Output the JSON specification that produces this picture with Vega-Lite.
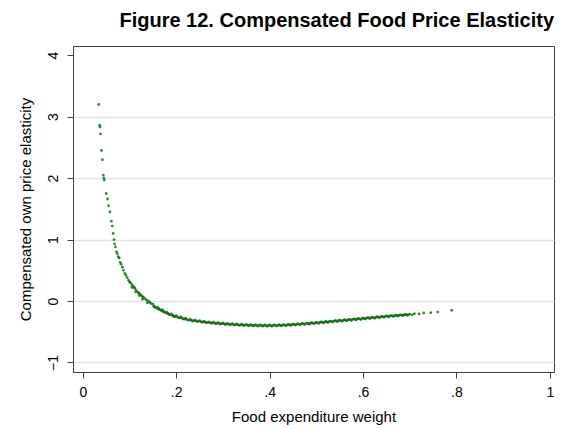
{
  "$schema": "https://vega.github.io/schema/vega-lite/v6.json",
  "autosize": "none",
  "width": 481,
  "height": 326,
  "padding": {"left": 73, "top": 46, "right": 10, "bottom": 56},
  "background": "white",
  "title": {
    "text": "Figure 12. Compensated Food Price Elasticity",
    "anchor": "end",
    "font": "Liberation Sans",
    "fontSize": 20,
    "fontWeight": "bold",
    "color": "#000000",
    "offset": 15
  },
  "config": {
    "view": {"stroke": "#404040", "strokeWidth": 1},
    "axis": {
      "labelFont": "Liberation Sans",
      "titleFont": "Liberation Sans",
      "labelColor": "#000000",
      "titleColor": "#000000",
      "titleFontWeight": "normal",
      "domainColor": "#404040",
      "tickColor": "#404040",
      "labelFontSize": 14,
      "titleFontSize": 15
    }
  },
  "data": {"values": [
    {"w":0.034,"e":3.2},{"w":0.036,"e":2.86},{"w":0.037,"e":2.83},{"w":0.038,"e":2.72},{"w":0.040,"e":2.45},
    {"w":0.042,"e":2.3},{"w":0.044,"e":2.05},{"w":0.045,"e":2.0},{"w":0.046,"e":1.97},{"w":0.050,"e":1.75},
    {"w":0.053,"e":1.66},{"w":0.055,"e":1.55},{"w":0.058,"e":1.45},{"w":0.061,"e":1.3},{"w":0.063,"e":1.22},
    {"w":0.065,"e":1.1},{"w":0.067,"e":1.0},{"w":0.068,"e":0.93},{"w":0.070,"e":0.88},{"w":0.072,"e":0.8},
    {"w":0.074,"e":0.77},{"w":0.076,"e":0.72},{"w":0.078,"e":0.70},{"w":0.080,"e":0.63},{"w":0.082,"e":0.6},
    {"w":0.085,"e":0.55},{"w":0.087,"e":0.5},{"w":0.090,"e":0.45},{"w":0.092,"e":0.42},{"w":0.095,"e":0.38},
    {"w":0.098,"e":0.34},{"w":0.100,"e":0.31},{"w":0.102,"e":0.30},{"w":0.105,"e":0.27},{"w":0.108,"e":0.24},
    {"w":0.110,"e":0.22},{"w":0.112,"e":0.20},{"w":0.115,"e":0.17},{"w":0.118,"e":0.14},{"w":0.120,"e":0.13},
    {"w":0.123,"e":0.11},{"w":0.125,"e":0.09},{"w":0.128,"e":0.07},{"w":0.130,"e":0.06},{"w":0.133,"e":0.04},
    {"w":0.136,"e":0.02},{"w":0.140,"e":0.0},{"w":0.143,"e":-0.02},{"w":0.146,"e":-0.04},
    {"w":0.105,"e":0.22},{"w":0.113,"e":0.15},{"w":0.121,"e":0.09},{"w":0.128,"e":0.03},{"w":0.138,"e":-0.03},
    {"w":0.152,"e":-0.09},{"w":0.162,"e":-0.13},{"w":0.172,"e":-0.17},{"w":0.183,"e":-0.21},{"w":0.193,"e":-0.24},
    {"w":0.150,"e":-0.05},{"w":0.155,"e":-0.10},{"w":0.160,"e":-0.10},{"w":0.165,"e":-0.14},{"w":0.170,"e":-0.14},
    {"w":0.175,"e":-0.18},{"w":0.180,"e":-0.18},{"w":0.185,"e":-0.22},{"w":0.190,"e":-0.21},{"w":0.195,"e":-0.25},
    {"w":0.200,"e":-0.24},{"w":0.205,"e":-0.27},{"w":0.210,"e":-0.26},{"w":0.215,"e":-0.29},{"w":0.220,"e":-0.28},
    {"w":0.225,"e":-0.31},{"w":0.230,"e":-0.30},{"w":0.235,"e":-0.325},{"w":0.240,"e":-0.31},{"w":0.245,"e":-0.335},
    {"w":0.250,"e":-0.32},{"w":0.255,"e":-0.345},{"w":0.260,"e":-0.33},{"w":0.265,"e":-0.355},{"w":0.270,"e":-0.34},
    {"w":0.275,"e":-0.362},{"w":0.280,"e":-0.345},{"w":0.285,"e":-0.37},{"w":0.290,"e":-0.352},{"w":0.295,"e":-0.376},
    {"w":0.300,"e":-0.358},{"w":0.305,"e":-0.382},{"w":0.310,"e":-0.364},{"w":0.315,"e":-0.387},{"w":0.320,"e":-0.369},
    {"w":0.325,"e":-0.392},{"w":0.330,"e":-0.374},{"w":0.335,"e":-0.396},{"w":0.340,"e":-0.378},{"w":0.345,"e":-0.40},
    {"w":0.350,"e":-0.381},{"w":0.355,"e":-0.403},{"w":0.360,"e":-0.384},{"w":0.365,"e":-0.406},{"w":0.370,"e":-0.386},
    {"w":0.375,"e":-0.408},{"w":0.380,"e":-0.388},{"w":0.385,"e":-0.409},{"w":0.390,"e":-0.389},{"w":0.395,"e":-0.41},
    {"w":0.400,"e":-0.389},{"w":0.405,"e":-0.409},{"w":0.410,"e":-0.388},{"w":0.415,"e":-0.408},{"w":0.420,"e":-0.386},
    {"w":0.425,"e":-0.405},{"w":0.430,"e":-0.383},{"w":0.435,"e":-0.402},{"w":0.440,"e":-0.379},{"w":0.445,"e":-0.398},
    {"w":0.450,"e":-0.375},{"w":0.455,"e":-0.393},{"w":0.460,"e":-0.370},{"w":0.465,"e":-0.388},{"w":0.470,"e":-0.365},
    {"w":0.475,"e":-0.383},{"w":0.480,"e":-0.359},{"w":0.485,"e":-0.377},{"w":0.490,"e":-0.353},{"w":0.495,"e":-0.371},
    {"w":0.500,"e":-0.347},{"w":0.505,"e":-0.364},{"w":0.510,"e":-0.340},{"w":0.515,"e":-0.357},{"w":0.520,"e":-0.333},
    {"w":0.525,"e":-0.350},{"w":0.530,"e":-0.326},{"w":0.535,"e":-0.343},{"w":0.540,"e":-0.319},{"w":0.545,"e":-0.336},
    {"w":0.550,"e":-0.312},{"w":0.555,"e":-0.329},{"w":0.560,"e":-0.305},{"w":0.565,"e":-0.322},{"w":0.570,"e":-0.298},
    {"w":0.575,"e":-0.315},{"w":0.580,"e":-0.291},{"w":0.585,"e":-0.308},{"w":0.590,"e":-0.284},{"w":0.595,"e":-0.301},
    {"w":0.600,"e":-0.277},{"w":0.605,"e":-0.294},{"w":0.610,"e":-0.270},{"w":0.615,"e":-0.287},{"w":0.620,"e":-0.263},
    {"w":0.625,"e":-0.280},{"w":0.630,"e":-0.256},{"w":0.635,"e":-0.273},{"w":0.640,"e":-0.249},{"w":0.645,"e":-0.266},
    {"w":0.650,"e":-0.243},{"w":0.655,"e":-0.259},{"w":0.660,"e":-0.237},{"w":0.665,"e":-0.252},{"w":0.670,"e":-0.231},
    {"w":0.675,"e":-0.245},{"w":0.680,"e":-0.225},{"w":0.685,"e":-0.238},{"w":0.690,"e":-0.219},{"w":0.695,"e":-0.231},
    {"w":0.700,"e":-0.213},{"w":0.705,"e":-0.225},{"w":0.710,"e":-0.207},{"w":0.720,"e":-0.21},{"w":0.730,"e":-0.195},
    {"w":0.745,"e":-0.19},{"w":0.760,"e":-0.18},{"w":0.790,"e":-0.15},
    {"w":0.1525,"e":-0.085},{"w":0.1575,"e":-0.115},{"w":0.1625,"e":-0.125},{"w":0.1675,"e":-0.155},{"w":0.1725,"e":-0.165},
    {"w":0.1775,"e":-0.195},{"w":0.1825,"e":-0.2},{"w":0.1875,"e":-0.225},{"w":0.1925,"e":-0.235},{"w":0.1975,"e":-0.255},
    {"w":0.2025,"e":-0.26},{"w":0.2075,"e":-0.275},{"w":0.2125,"e":-0.28},{"w":0.2175,"e":-0.295},{"w":0.2225,"e":-0.3},
    {"w":0.2275,"e":-0.31},{"w":0.2325,"e":-0.315},{"w":0.2375,"e":-0.322},{"w":0.2425,"e":-0.325},{"w":0.2475,"e":-0.33},
    {"w":0.2525,"e":-0.335},{"w":0.2575,"e":-0.34},{"w":0.2625,"e":-0.345},{"w":0.2675,"e":-0.348},{"w":0.2725,"e":-0.352},
    {"w":0.2775,"e":-0.356},{"w":0.2825,"e":-0.36},{"w":0.2875,"e":-0.362},{"w":0.2925,"e":-0.366},{"w":0.2975,"e":-0.369},
    {"w":0.3025,"e":-0.372},{"w":0.3075,"e":-0.374},{"w":0.3125,"e":-0.377},{"w":0.3175,"e":-0.379},{"w":0.3225,"e":-0.382},
    {"w":0.3275,"e":-0.384},{"w":0.3325,"e":-0.387},{"w":0.3375,"e":-0.389},{"w":0.3425,"e":-0.39},{"w":0.3475,"e":-0.392},
    {"w":0.3525,"e":-0.393},{"w":0.3575,"e":-0.395},{"w":0.3625,"e":-0.396},{"w":0.3675,"e":-0.397},{"w":0.3725,"e":-0.397},
    {"w":0.3775,"e":-0.398},{"w":0.3825,"e":-0.398},{"w":0.3875,"e":-0.399},{"w":0.3925,"e":-0.399},{"w":0.3975,"e":-0.399},
    {"w":0.4025,"e":-0.399},{"w":0.4075,"e":-0.398},{"w":0.4125,"e":-0.397},{"w":0.4175,"e":-0.396},{"w":0.4225,"e":-0.395},
    {"w":0.4275,"e":-0.393},{"w":0.4325,"e":-0.391},{"w":0.4375,"e":-0.389},{"w":0.4425,"e":-0.386},{"w":0.4475,"e":-0.384},
    {"w":0.4525,"e":-0.381},{"w":0.4575,"e":-0.379},{"w":0.4625,"e":-0.376},{"w":0.4675,"e":-0.374},{"w":0.4725,"e":-0.371},
    {"w":0.4775,"e":-0.368},{"w":0.4825,"e":-0.365},{"w":0.4875,"e":-0.362},{"w":0.4925,"e":-0.359},{"w":0.4975,"e":-0.356},
    {"w":0.5025,"e":-0.353},{"w":0.5075,"e":-0.349},{"w":0.5125,"e":-0.346},{"w":0.5175,"e":-0.342},{"w":0.5225,"e":-0.339},
    {"w":0.5275,"e":-0.335},{"w":0.5325,"e":-0.332},{"w":0.5375,"e":-0.328},{"w":0.5425,"e":-0.325},{"w":0.5475,"e":-0.321},
    {"w":0.5525,"e":-0.318},{"w":0.5575,"e":-0.314},{"w":0.5625,"e":-0.311},{"w":0.5675,"e":-0.307},{"w":0.5725,"e":-0.304},
    {"w":0.5775,"e":-0.3},{"w":0.5825,"e":-0.297},{"w":0.5875,"e":-0.293},{"w":0.5925,"e":-0.29},{"w":0.5975,"e":-0.286},
    {"w":0.6025,"e":-0.283},{"w":0.6075,"e":-0.279},{"w":0.6125,"e":-0.276},{"w":0.6175,"e":-0.272},{"w":0.6225,"e":-0.269},
    {"w":0.6275,"e":-0.265},{"w":0.6325,"e":-0.262},{"w":0.6375,"e":-0.258},{"w":0.6425,"e":-0.255},{"w":0.6475,"e":-0.251},
    {"w":0.6525,"e":-0.248},{"w":0.6575,"e":-0.244},{"w":0.6625,"e":-0.241},{"w":0.6675,"e":-0.238},{"w":0.6725,"e":-0.235},
    {"w":0.6775,"e":-0.232},{"w":0.6825,"e":-0.229},{"w":0.6875,"e":-0.226},{"w":0.6925,"e":-0.223},{"w":0.6975,"e":-0.22}
  ]},
  "mark": {"type": "circle", "size": 8, "color": "#086b08", "opacity": 0.8},
  "encoding": {
    "x": {
      "field": "w", "type": "quantitative",
      "scale": {"domain": [-0.021, 1.009], "nice": false, "zero": false},
      "axis": {
        "title": "Food expenditure weight",
        "values": [0, 0.2, 0.4, 0.6, 0.8, 1],
        "labelExpr": "datum.value == 0 ? '0' : datum.value == 1 ? '1' : '.' + round(datum.value * 10)",
        "grid": false,
        "tickSize": 6,
        "labelPadding": 7,
        "titlePadding": 10
      }
    },
    "y": {
      "field": "e", "type": "quantitative",
      "scale": {"domain": [-1.155, 4.15], "nice": false, "zero": false},
      "axis": {
        "title": "Compensated own price elasticity",
        "values": [-1, 0, 1, 2, 3, 4],
        "format": "d",
        "labelAngle": -90,
        "labelAlign": "center",
        "labelBaseline": "bottom",
        "tickSize": 6,
        "labelPadding": 7,
        "titlePadding": 13,
        "grid": true,
        "gridColor": {"condition": {"test": "datum.value == 4", "value": "transparent"}, "value": "#e2e2e2"},
        "gridWidth": 1.5
      }
    }
  }
}
